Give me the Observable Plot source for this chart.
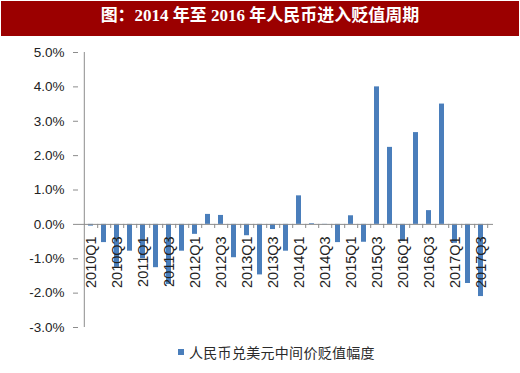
<!DOCTYPE html>
<html>
<head>
<meta charset="utf-8">
<script src="https://cdn.jsdelivr.net/npm/d3@7"></script>
<script src="https://cdn.jsdelivr.net/npm/@observablehq/plot@0.6"></script>
<style>
  html, body { margin: 0; padding: 0; background: #fff; width: 520px; height: 373px; overflow: hidden; position: relative; }
  #title { position: absolute; top: 1px; left: 1px; width: 518px; height: 35px; background: #9b0000; color: #fff;
    text-align: center; line-height: 35px; font: bold 17px "Liberation Serif", "DejaVu Serif", "Noto Sans CJK SC", serif; white-space: pre; }
  #chart { position: absolute; top: 38px; left: 0; }
  #legend { position: absolute; top: 343px; left: 178px; font: 14px "Noto Sans CJK SC", sans-serif; color: #2a2a2a; line-height: 18px; white-space: nowrap; letter-spacing: 0.3px; }
  #legend .sw { display: inline-block; width: 6px; height: 6px; background: #4a7ebb; margin-right: 5px; vertical-align: 3px; }
</style>
</head>
<body>
<div id="title">图：2014 年至 2016 年人民币进入贬值周期</div>
<div id="chart"></div>
<div id="legend"><span class="sw"></span>人民币兑美元中间价贬值幅度</div>
<script>
const quarters = [
  "2010Q1","2010Q2","2010Q3","2010Q4",
  "2011Q1","2011Q2","2011Q3","2011Q4",
  "2012Q1","2012Q2","2012Q3","2012Q4",
  "2013Q1","2013Q2","2013Q3","2013Q4",
  "2014Q1","2014Q2","2014Q3","2014Q4",
  "2015Q1","2015Q2","2015Q3","2015Q4",
  "2016Q1","2016Q2","2016Q3","2016Q4",
  "2017Q1","2017Q2","2017Q3"
];
const depreciation = [
  -0.05, -0.53, -1.25, -0.78,
  -1.00, -1.26, -1.75, -0.78,
  -0.29,  0.29,  0.26, -0.97,
  -0.33, -1.47, -0.15, -0.78,
   0.83,  0.02, -0.01, -0.53,
   0.25, -0.52,  4.00,  2.24,
  -0.50,  2.67,  0.40,  3.50,
  -0.55, -1.72, -2.10
];
const xTickLabels = quarters.filter((d, i) => i % 2 === 0);
const yTicks = [-3, -2, -1, 0, 1, 2, 3, 4, 5];

const data = quarters.map((q, i) => ({q, v: depreciation[i]}));
const labelData = xTickLabels.map(q => ({q}));

const W = 520, ML = 78, MR = 27;
const step = (W - ML - MR) / quarters.length;
const axisColor = "#8c8c8c";

const chart = Plot.plot({
  width: W,
  height: 300,
  marginTop: 14,
  marginBottom: 11,
  marginLeft: ML,
  marginRight: MR,
  style: {fontFamily: "'Liberation Sans', Arial, sans-serif", fontSize: "13px", color: "#222", background: "transparent"},
  x: {domain: quarters, paddingInner: 0.62, paddingOuter: 0.31, align: 0.5, axis: null},
  y: {domain: [-3, 5], axis: null},
  marks: [
    Plot.axisY({ticks: yTicks, tickFormat: d => d.toFixed(1) + "%", tickSize: 5, tickPadding: 9, stroke: axisColor, fill: "#222", label: null, fontSize: 13.5}),
    Plot.ruleX([quarters[0]], {y1: -3, y2: 5, dx: -step / 2, stroke: axisColor}),
    Plot.barY(data, {x: "q", y: "v", fill: "#4a7ebb"}),
    Plot.ruleY([0], {stroke: axisColor}),
    Plot.ruleX(quarters, {y1: 0, y2: -0.12, dx: step / 2, stroke: axisColor}),
    Plot.text(labelData, {x: "q", y: 0, text: "q", rotate: -90, textAnchor: "end", dy: 12, fill: "#222", fontSize: 14.5})
  ]
});
document.getElementById("chart").appendChild(chart);
</script>
</body>
</html>
